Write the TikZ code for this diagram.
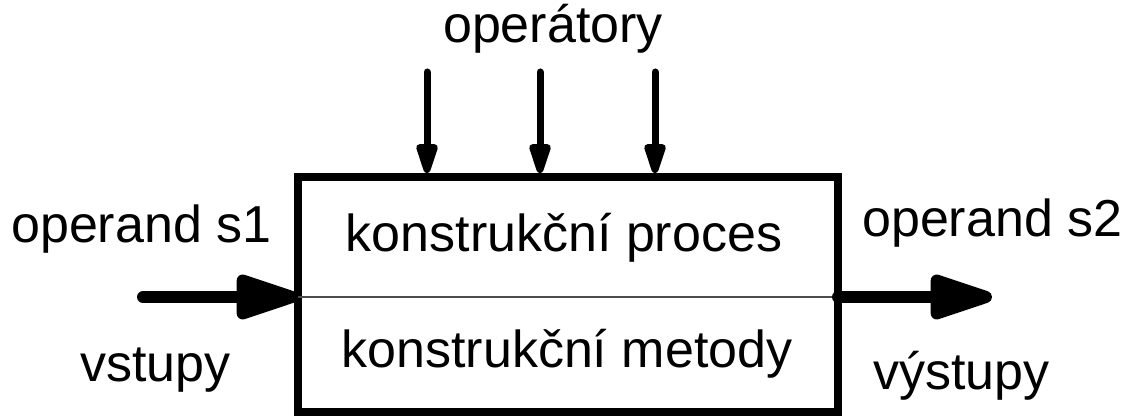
\documentclass[tikz,border=0pt]{standalone}
\usepackage{fontspec}
\setmainfont{Liberation Sans}
\usetikzlibrary{arrows.meta}
\begin{document}
\begin{tikzpicture}[x=1pt,y=1pt,
  lbl/.style={inner sep=0pt, anchor=base west, font=\fontsize{52}{60}\selectfont},
  clbl/.style={inner sep=0pt, anchor=base, font=\fontsize{52}{60}\selectfont},
  bigarrow/.style={line width=12pt, line cap=round, -{Triangle[length=76pt,width=46pt,round]}},
  smallarrow/.style={line width=7pt, line cap=round, -{Triangle[length=38pt,width=22pt,round]}},
  mainbox/.style={draw, line width=8pt, minimum width=540pt, minimum height=235pt, inner sep=0pt}]
\useasboundingbox (0,0) rectangle (1129,417);
\node[mainbox] (box) at (568,122.5) {};
\coordinate (ml) at (298,120);
\coordinate (mr) at (838,120);
\draw[gray!60!black, line width=1.5pt] (ml) -- (mr);
% operators
\coordinate (t1) at (427,345);
\coordinate (t2) at (540,345);
\coordinate (t3) at (655,345);
\draw[smallarrow] (t1) -- (t1 |- box.north);
\draw[smallarrow] (t2) -- (t2 |- box.north);
\draw[smallarrow] (t3) -- (t3 |- box.north);
% inputs / outputs
\coordinate (in) at (143,120);
\coordinate (out) at (992,120);
\draw[bigarrow] (in) -- (ml);
\draw[bigarrow] (mr) -- (out);
% labels
\node[clbl] (op) at (553,374) {operátory};
\node[lbl] (s1) at (11,174) {operand s1};
\node[lbl] (vs) at (80,35) {vstupy};
\node[lbl] (s2) at (862,180) {operand s2};
\node[lbl] (vy) at (873,27) {výstupy};
\node[clbl] (kp) at (564,165) {konstrukční proces};
\node[clbl] (km) at (567,49) {konstrukční metody};
\end{tikzpicture}
\end{document}
